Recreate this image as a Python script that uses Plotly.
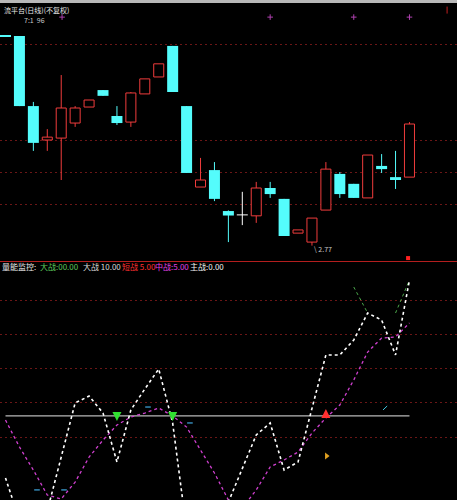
import plotly.graph_objects as go

# ---------------- data ----------------
idx = list(range(30))
open_ = [3.428, 3.425, 3.206, 3.100, 3.106, 3.153, 3.203, 3.256, 3.175, 3.156,
         3.244, 3.297, 3.394, 3.206, 2.953, 3.006, 2.878, 2.866, 2.863, 2.950,
         2.916, 2.809, 2.781, 2.881, 2.994, 2.963, 2.919, 3.019, 2.984, 2.984]
close = [3.424, 3.206, 3.091, 3.109, 3.200, 3.200, 3.225, 3.238, 3.153, 3.247,
         3.291, 3.338, 3.250, 2.997, 2.975, 2.916, 2.864, 2.866, 2.950, 2.931,
         2.800, 2.819, 2.856, 3.009, 2.931, 2.919, 3.053, 3.009, 2.978, 3.150]
high = [3.428, 3.425, 3.219, 3.134, 3.303, 3.206, 3.225, 3.256, 3.206, 3.250,
        3.291, 3.338, 3.394, 3.206, 3.044, 3.031, 2.880, 2.938, 2.969, 2.969,
        2.916, 2.819, 2.856, 3.031, 3.000, 2.963, 3.053, 3.056, 3.066, 3.156]
low = [3.424, 3.206, 3.066, 3.066, 2.975, 3.141, 3.203, 3.238, 3.147, 3.141,
       3.244, 3.297, 3.250, 2.997, 2.953, 2.909, 2.781, 2.834, 2.841, 2.919,
       2.800, 2.809, 2.770, 2.881, 2.919, 2.919, 2.919, 2.997, 2.947, 2.984]
price_grid = [3.40, 3.10, 3.00, 2.90]
low_label = "\\ 2.77"

white_line = [-3.9, -28.5, -34.3, -23.2, 8.3, 39.9, 43.9, 34.0, 5.4, 35.8,
              48.0, 59.7, 28.2, -34.3, -43.1, -34.3, -18.0, 1.3, 21.2, 28.2,
              0.7, 5.4, 36.4, 67.9, 67.9, 76.6, 92.4, 88.3, 67.9, 111.7]
magenta_line = [29.9, 14.2, 0.7, -13.9, -16.2, -6.3, 8.3, 18.2, 27.0, 31.7,
                34.0, 36.9, 32.3, 25.8, 12.4, -1.0, -16.8, -21.5, -10.9, 2.5,
                6.6, 11.2, 22.3, 31.1, 38.7, 53.3, 69.6, 77.8, 78.4, 86.6]
green_seg_idx = [25, 26, None, 28, 29]
green_seg_val = [107.6, 92.4, None, 92.4, 111.7]
ref_level = 32.3
ind_grid = [20, 40, 60, 80, 100]

buy_idx, buy_val = [8, 12], [29.3, 29.3]
sell_idx, sell_val = [23], [36.4]
flag_idx, flag_val = [23.05], [8.9]
cyan_mark_idx = [10.23, 13.24, 2.26, 4.2]
cyan_mark_val = [37.5, 28.2, -10.9, -10.9]
cyan_tick_idx = [27.1, 27.4]
cyan_tick_val = [35.8, 38.1]
top_mark_idx = [4.06, 19.0, 25.0, 29.0]
top_mark_val = [3.484, 3.484, 3.484, 3.484]

title_text = "流平台(日线)(不复权)"
sub_text = "7:1  96"
legend_items = [("量能监控:", "#e8e8e8", 0), ("大战:00.00", "#5cc85c", 38),
                ("大战 10.00", "#d8d8d8", 81), ("短战 5.00", "#ff3030", 120),
                ("中战:5.00", "#e040e0", 153), ("主战:0.00", "#f0f0f0", 188)]

# ---------------- styles ----------------
CYAN = "#54FCFC"
RED = "#F03C3C"
GRID = "#6a1616"
BW = 0.79
W, H = 457, 500
SPACING = 13.93
X0 = 5.5
xr = [(0 - X0) / SPACING, (W - X0) / SPACING]
ytop = [2.90 + (204 - 261) / 320, 2.90 + 204 / 320]
k = 20 / 34.25
ybot = [20 + (437 - 500) * k, 20 + (437 - 262) * k]

fig = go.Figure()

# wicks
cw_x, cw_y, rw_x, rw_y, ww_x, ww_y = [], [], [], [], [], []
for i, o, c, h, l in zip(idx, open_, close, high, low):
    if c < o:
        cw_x += [i, i, None]; cw_y += [h, l, None]
    elif c > o:
        rw_x += [i, i, None, i, i, None]; rw_y += [h, c, None, o, l, None]
    else:
        ww_x += [i, i, None, i - BW / 2, i + BW / 2, None]
        ww_y += [h, l, None, o, o, None]
fig.add_trace(go.Scatter(x=cw_x, y=cw_y, mode="lines", line=dict(color=CYAN, width=1), xaxis="x", yaxis="y"))
fig.add_trace(go.Scatter(x=rw_x, y=rw_y, mode="lines", line=dict(color=RED, width=1), xaxis="x", yaxis="y"))
fig.add_trace(go.Scatter(x=ww_x, y=ww_y, mode="lines", line=dict(color="#ffffff", width=1), xaxis="x", yaxis="y"))

down = [(i, o, c) for i, o, c in zip(idx, open_, close) if c < o]
up = [(i, o, c) for i, o, c in zip(idx, open_, close) if c > o]
fig.add_trace(go.Bar(x=[d[0] for d in down], y=[d[1] - d[2] for d in down], base=[d[2] for d in down],
                     width=BW, marker=dict(color=CYAN, line=dict(width=0)), xaxis="x", yaxis="y"))
fig.add_trace(go.Bar(x=[u[0] for u in up], y=[u[2] - u[1] for u in up], base=[u[1] for u in up],
                     width=BW - 0.07, marker=dict(color="black", line=dict(width=1, color=RED)), xaxis="x", yaxis="y"))

fig.add_trace(go.Scatter(x=top_mark_idx, y=top_mark_val, mode="markers",
                         marker=dict(symbol="cross-thin", size=4, line=dict(color="#b040b0", width=1)), xaxis="x", yaxis="y"))
fig.add_trace(go.Scatter(x=[28.9], y=[2.731], mode="markers",
                         marker=dict(symbol="square", size=4, color="#ff2020"), xaxis="x", yaxis="y"))
fig.add_trace(go.Scatter(x=[31.7], y=[3.506], mode="markers",
                         marker=dict(symbol="line-ns", size=5, line=dict(color="#c02020", width=1)), xaxis="x", yaxis="y"))

# ---------------- indicator panel ----------------
fig.add_trace(go.Scatter(x=[idx[0], idx[-1]], y=[ref_level, ref_level], mode="lines",
                         line=dict(color="#b8b8b8", width=1.2), xaxis="x2", yaxis="y2"))
fig.add_trace(go.Scatter(x=idx, y=magenta_line, mode="lines",
                         line=dict(color="#d040d0", width=1.3, dash="dot"), xaxis="x2", yaxis="y2"))
fig.add_trace(go.Scatter(x=green_seg_idx, y=green_seg_val, mode="lines", connectgaps=False,
                         line=dict(color="#4caa4c", width=1, dash="dot"), xaxis="x2", yaxis="y2"))
fig.add_trace(go.Scatter(x=idx, y=white_line, mode="lines",
                         line=dict(color="#ffffff", width=1.6, dash="dot"), xaxis="x2", yaxis="y2"))
fig.add_trace(go.Scatter(x=buy_idx, y=buy_val, mode="markers",
                         marker=dict(symbol="arrow-down", size=9, color="#30e030"), xaxis="x2", yaxis="y2"))
fig.add_trace(go.Scatter(x=sell_idx, y=sell_val, mode="markers",
                         marker=dict(symbol="arrow-up", size=9, color="#ff3030"), xaxis="x2", yaxis="y2"))
fig.add_trace(go.Scatter(x=flag_idx, y=flag_val, mode="markers",
                         marker=dict(symbol="triangle-right", size=6, color="#e0a020"), xaxis="x2", yaxis="y2"))
fig.add_trace(go.Scatter(x=cyan_mark_idx, y=cyan_mark_val, mode="markers",
                         marker=dict(symbol="line-ew", size=4, line=dict(color="#40a8e0", width=1.2)), xaxis="x2", yaxis="y2"))
fig.add_trace(go.Scatter(x=cyan_tick_idx, y=cyan_tick_val, mode="lines",
                         line=dict(color="#40c8e0", width=1), xaxis="x2", yaxis="y2"))

axis_common = dict(showticklabels=False, ticks="", zeroline=False, showline=False)
fig.update_layout(
    width=W, height=H, autosize=False,
    margin=dict(l=0, r=0, t=0, b=0, pad=0),
    paper_bgcolor="black", plot_bgcolor="black",
    showlegend=False, barmode="overlay",
    xaxis=dict(range=xr, domain=[0, 1], showgrid=False, anchor="y", **axis_common),
    xaxis2=dict(range=xr, domain=[0, 1], showgrid=False, anchor="y2", **axis_common),
    yaxis=dict(range=ytop, domain=[1 - 261 / 500, 1], tickvals=price_grid, showgrid=True,
               gridcolor=GRID, griddash="2px,3px", gridwidth=1, **axis_common),
    yaxis2=dict(range=ybot, domain=[0, 1 - 262 / 500], tickvals=ind_grid, showgrid=True,
                gridcolor=GRID, griddash="2px,3px", gridwidth=1, **axis_common),
    font=dict(family="Noto Sans CJK SC", color="#e0e0e0"),
)

fig.add_shape(type="line", xref="paper", yref="paper", x0=0, x1=1, y0=1 - 261.5 / 500, y1=1 - 261.5 / 500,
              line=dict(color="#b41e1e", width=1.2))
fig.add_shape(type="rect", xref="paper", yref="paper", x0=0, x1=1, y0=1 - 3 / 500, y1=1,
              fillcolor="#b8b8b8", line=dict(width=0))

fig.add_annotation(xref="paper", yref="paper", x=2 / W, y=1 - 10 / 500, text=title_text, showarrow=False,
                   xanchor="left", yanchor="middle", font=dict(size=7, color="#e8e8e8"))
fig.add_annotation(xref="paper", yref="paper", x=22 / W, y=1 - 20 / 500, text=sub_text, showarrow=False,
                   xanchor="left", yanchor="middle", font=dict(size=7, color="#c8c8c8"))
for txt, col, px in legend_items:
    fig.add_annotation(xref="paper", yref="paper", x=px / W, y=1 - 266.5 / 500, text=txt, showarrow=False,
                       xanchor="left", yanchor="middle", font=dict(size=8, color=col))
fig.add_annotation(xref="x", yref="y", x=22, y=2.759, text=low_label, showarrow=False,
                   xanchor="left", yanchor="middle", font=dict(size=7, color="#c8c8c8"))

fig.write_html("out.html", config={"displayModeBar": False},
               post_script="document.body.style.margin='0';document.body.style.padding='0';"
                           "document.body.style.background='black';")
